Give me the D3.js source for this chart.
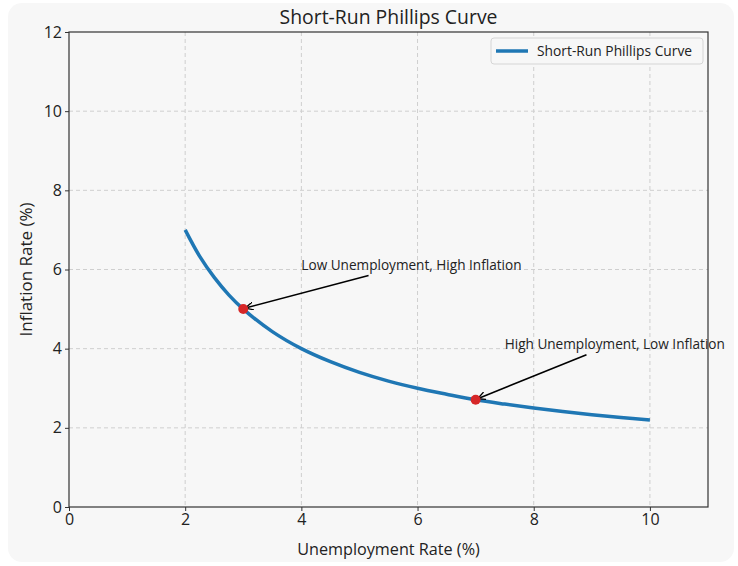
<!DOCTYPE html>
<html>
<head>
<meta charset="utf-8">
<script src="https://cdn.jsdelivr.net/npm/d3@7"></script>
<style>
  body { margin: 0; background: #ffffff; font-family: "Open Sans", Roboto, sans-serif; }
  svg text { font-family: "Open Sans", Roboto, sans-serif; fill: #222; }
</style>
</head>
<body>
<svg id="chart" width="738" height="566"></svg>
<script>
// values
var unemployment = [2, 2.25, 2.5, 2.75, 3, 3.5, 4, 4.5, 5, 5.5, 6, 6.5, 7, 7.5, 8, 8.5, 9, 9.5, 10];
var inflation = [7.0, 6.33, 5.8, 5.36, 5.0, 4.43, 4.0, 3.67, 3.4, 3.18, 3.0, 2.85, 2.71, 2.6, 2.5, 2.41, 2.33, 2.26, 2.2];
var xTicks = [0, 2, 4, 6, 8, 10];
var yTicks = [0, 2, 4, 6, 8, 10, 12];
var highlights = [
  {label: "Low Unemployment, High Inflation", x: 3, y: 5, tx: 4, ty: 6},
  {label: "High Unemployment, Low Inflation", x: 7, y: 2.71, tx: 7.5, ty: 4}
];

var svg = d3.select("#chart");
var margin = {top: 32, right: 30, bottom: 59, left: 69};
var width = 738 - margin.left - margin.right;
var height = 566 - margin.top - margin.bottom;

// card background
svg.append("rect")
  .attr("x", 8).attr("y", 3).attr("width", 726).attr("height", 559)
  .attr("rx", 14).attr("fill", "#f7f7f7");

var g = svg.append("g").attr("transform", "translate(" + margin.left + "," + margin.top + ")");

var x = d3.scaleLinear().domain([0, 11]).range([0, width]);
var y = d3.scaleLinear().domain([0, 12]).range([height, 0]);

// grid
g.append("g").selectAll("line").data(xTicks.slice(1)).join("line")
  .attr("x1", d => x(d)).attr("x2", d => x(d)).attr("y1", 0).attr("y2", height)
  .attr("stroke", "#cfcfcf").attr("stroke-dasharray", "4,3").attr("stroke-width", 1);
g.append("g").selectAll("line").data(yTicks.slice(1, -1)).join("line")
  .attr("x1", 0).attr("x2", width).attr("y1", d => y(d)).attr("y2", d => y(d))
  .attr("stroke", "#cfcfcf").attr("stroke-dasharray", "4,3").attr("stroke-width", 1);

// axes
var xAxis = g.append("g").attr("transform", "translate(0," + height + ")")
  .call(d3.axisBottom(x).tickValues(xTicks).tickSize(4).tickPadding(3));
var yAxis = g.append("g")
  .call(d3.axisLeft(y).tickValues(yTicks).tickSize(4).tickPadding(3));
[xAxis, yAxis].forEach(function(a) {
  a.select(".domain").remove();
  a.selectAll("line").attr("stroke", "#333");
  a.selectAll("text").style("font-size", "16px").attr("fill", "#222");
});

// frame
g.append("rect").attr("width", width).attr("height", height)
  .attr("fill", "none").attr("stroke", "#333").attr("stroke-width", 1.2);

// curve
var pts = unemployment.map((u, i) => [u, inflation[i]]);
var line = d3.line().x(d => x(d[0])).y(d => y(d[1])).curve(d3.curveCatmullRom);
g.append("path").datum(pts).attr("d", line)
  .attr("fill", "none").attr("stroke", "#1f77b4").attr("stroke-width", 3.5);

// arrow marker
svg.append("defs").append("marker")
  .attr("id", "arrow").attr("viewBox", "0 0 10 10").attr("refX", 10).attr("refY", 5)
  .attr("markerWidth", 8).attr("markerHeight", 8).attr("markerUnits", "userSpaceOnUse")
  .attr("orient", "auto")
  .append("path").attr("d", "M0,0 L10,5 L0,10").attr("fill", "none").attr("stroke", "#000").attr("stroke-width", 1.6);

// annotations
var annot = g.append("g");
highlights.forEach(function(h) {
  var t = annot.append("text").attr("x", x(h.tx)).attr("y", y(h.ty))
    .style("font-size", "13.6px").text(h.label);
  var bb = t.node().getBBox();
  var cx = bb.x + bb.width / 2, cy = bb.y + bb.height / 2;
  var px = x(h.x), py = y(h.y);
  // clip the arrow start at the text box
  var dx = px - cx, dy = py - cy;
  var s = Math.min((bb.width / 2 + 2) / Math.abs(dx || 1e-9), (bb.height / 2 + 2) / Math.abs(dy || 1e-9));
  annot.append("line")
    .attr("x1", cx + dx * s).attr("y1", cy + dy * s)
    .attr("x2", px + 2).attr("y2", py - 1)
    .attr("stroke", "#000").attr("stroke-width", 1.6)
    .attr("marker-end", "url(#arrow)");
  annot.append("circle").attr("cx", px).attr("cy", py).attr("r", 5).attr("fill", "#d62728");
});

// legend
var lg = g.append("g").attr("transform", "translate(" + (width - 217) + ",6)");
lg.append("rect").attr("width", 212).attr("height", 26).attr("rx", 3)
  .attr("fill", "#f7f7f7").attr("stroke", "#d5d5d5");
lg.append("line").attr("x1", 5).attr("x2", 37).attr("y1", 13).attr("y2", 13)
  .attr("stroke", "#1f77b4").attr("stroke-width", 3.5);
lg.append("text").attr("x", 46).attr("y", 18).style("font-size", "13.8px").text("Short-Run Phillips Curve");

// titles
svg.append("text").attr("x", margin.left + width / 2).attr("y", 24)
  .attr("text-anchor", "middle").style("font-size", "19.4px").text("Short-Run Phillips Curve");
svg.append("text").attr("x", margin.left + width / 2).attr("y", 555)
  .attr("text-anchor", "middle").style("font-size", "16.2px").text("Unemployment Rate (%)");
svg.append("text").attr("transform", "translate(32," + (margin.top + height / 2) + ") rotate(-90)")
  .attr("text-anchor", "middle").style("font-size", "17px").text("Inflation Rate (%)");
</script>
</body>
</html>
